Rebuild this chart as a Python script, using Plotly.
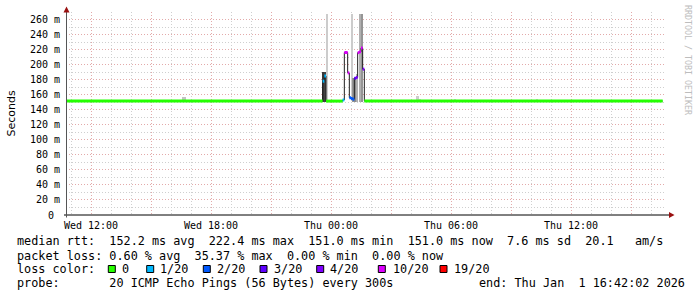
import plotly.graph_objects as go
from datetime import datetime, timedelta

# ---------------- data ----------------
view_start = "2025-12-31 10:45"
view_end = "2026-01-01 16:45"

# median rtt (ms): each value holds from its start time to the next start time
step_start = ["2025-12-31 10:45", "2025-12-31 23:35", "2025-12-31 23:40", "2025-12-31 23:45",
              "2026-01-01 00:35", "2026-01-01 00:40", "2026-01-01 00:45", "2026-01-01 00:50",
              "2026-01-01 00:55", "2026-01-01 01:00", "2026-01-01 01:05", "2026-01-01 01:10",
              "2026-01-01 01:15", "2026-01-01 01:20", "2026-01-01 01:25", "2026-01-01 01:30",
              "2026-01-01 01:35", "2026-01-01 01:40"]
data_end = "2026-01-01 16:35"
median_ms = [151.5, 178, 185, 151.5, 153, 216, 216, 189, 156, 155, 154, 182, 183,
             216, 217, 222, 194, 151.5]
loss_of_20 = [0, 1, 1, 0, 1, 7, 7, 7, 2, 2, 2, 3, 4, 7, 7, 7, 4, 0]

# smoke (spread of the 20 pings) for single 5-minute steps
smoke_time = ["2025-12-31 13:15", "2025-12-31 13:20", "2025-12-31 16:35", "2025-12-31 16:40",
              "2025-12-31 20:00", "2025-12-31 20:05", "2025-12-31 23:35", "2025-12-31 23:40",
              "2025-12-31 23:45", "2026-01-01 01:00", "2026-01-01 01:05", "2026-01-01 01:10",
              "2026-01-01 01:15", "2026-01-01 01:25", "2026-01-01 01:30", "2026-01-01 04:15",
              "2026-01-01 04:20", "2026-01-01 04:25", "2026-01-01 06:10", "2026-01-01 10:15"]
smoke_low_ms = [150.5, 150.5, 150.5, 150.5, 150.5, 150.5, 150, 150, 151, 151, 150, 150,
                150, 150, 150, 150.5, 150.5, 150.5, 150.5, 150.5]
smoke_high_ms = [153.5, 153.5, 156.5, 156.5, 153.5, 153.5, 190, 190, 267, 267, 182, 183,
                 188, 267, 267, 157.7, 157.7, 154.5, 154, 154.7]
smoke_density = [0.1, 0.1, 0.2, 0.2, 0.1, 0.1, 0.95, 0.9, 0.15, 0.15, 0.45, 0.5,
                 0.3, 0.3, 0.45, 0.15, 0.15, 0.1, 0.1, 0.1]

loss_keys = [0, 1, 2, 3, 4, 10, 19]
loss_labels = ["0", "1/20", "2/20", "3/20", "4/20", "10/20", "19/20"]
loss_colors = ["#26ff00", "#00b8ff", "#0059ff", "#5e00ff", "#7e00ff", "#dd00ff", "#ff0000"]

y_tick_values = [0, 20, 40, 60, 80, 100, 120, 140, 160, 180, 200, 220, 240, 260]
y_tick_labels = ["0 ", "20 m", "40 m", "60 m", "80 m", "100 m", "120 m", "140 m",
                 "160 m", "180 m", "200 m", "220 m", "240 m", "260 m"]
x_tick_times = ["2025-12-31 12:00", "2025-12-31 15:00", "2025-12-31 18:00", "2025-12-31 21:00",
                "2026-01-01 00:00", "2026-01-01 03:00", "2026-01-01 06:00", "2026-01-01 09:00",
                "2026-01-01 12:00", "2026-01-01 15:00"]
x_tick_labels = ["Wed 12:00", "", "Wed 18:00", "", "Thu 00:00", "", "Thu 06:00", "",
                 "Thu 12:00", ""]

stat_median = "median rtt:  152.2 ms avg  222.4 ms max  151.0 ms min  151.0 ms now  7.6 ms sd  20.1   am/s"
stat_loss = "packet loss: 0.60 % avg  35.37 % max  0.00 % min  0.00 % now"
probe_text = "probe:       20 ICMP Echo Pings (56 Bytes) every 300s"
end_text = "end: Thu Jan  1 16:42:02 2026"
watermark = "RRDTOOL / TOBI OETIKER"

# ---------------- helpers ----------------
FMT = "%Y-%m-%d %H:%M"
def T(s):
    return datetime.strptime(s, FMT)

L, R, TOP, B = 66, 31, 12, 82
W, H = 697, 297
PW, PH = W - L - R, H - TOP - B

def px(x):
    return (x - L) / PW

def py(y):
    return (H - B - y) / PH

def nb(s):
    return s.replace(" ", "\u00a0")

def loss_class(n):
    for i, k in enumerate(loss_keys):
        if n <= k:
            return i
    return len(loss_keys) - 1

starts = [T(s) for s in step_start]
ends = starts[1:] + [T(data_end)]

fig = go.Figure()

# smoke
step = timedelta(minutes=5)
sm_x = [T(s) + step / 2 for s in smoke_time]
sm_col = []
for d in smoke_density:
    v = int(round(232 - 185 * d))
    sm_col.append(f"rgb({v},{v},{v})")
fig.add_trace(go.Bar(x=sm_x, y=[h - l for h, l in zip(smoke_high_ms, smoke_low_ms)],
                     base=smoke_low_ms, width=[300000] * len(sm_x),
                     marker=dict(color=sm_col, line=dict(width=0)), hoverinfo="skip"))

# thin dark median line
fig.add_trace(go.Scatter(x=starts + [ends[-1]], y=median_ms + [median_ms[-1]],
                         mode="lines", line=dict(color="#202020", width=1, shape="hv"),
                         hoverinfo="skip"))

# loss coloured median bands
classes = [loss_class(n) for n in loss_of_20]
for ci, col in enumerate(loss_colors):
    xs, ys = [], []
    for i in range(len(starts)):
        if classes[i] == ci:
            xs += [starts[i], ends[i], None]
            ys += [median_ms[i], median_ms[i], None]
    if xs:
        fig.add_trace(go.Scatter(x=xs, y=ys, mode="lines",
                                 line=dict(color=col, width=3), hoverinfo="skip"))

MAJ = "#e3aaaa"
MIN = "#cfcfcf"
DASH = "1px,2px"
fig.update_xaxes(type="date", range=[view_start, view_end], tickmode="array",
                 tickvals=x_tick_times, ticktext=x_tick_labels,
                 showgrid=True, gridcolor=MAJ, griddash=DASH, gridwidth=1,
                 minor=dict(dtick=3600000, tick0="2025-12-31 11:00", showgrid=True,
                            gridcolor=MIN, griddash=DASH, gridwidth=1),
                 showline=False, zeroline=False, ticks="", ticklabelstandoff=3,
                 tickfont=dict(family="DejaVu Sans Mono", size=10, color="#000"))
fig.update_yaxes(range=[0, 270], tickmode="array", tickvals=y_tick_values,
                 ticktext=[nb(t) for t in y_tick_labels],
                 showgrid=True, gridcolor=MAJ, griddash=DASH, gridwidth=1,
                 minor=dict(dtick=10, tick0=0, showgrid=True, gridcolor=MIN,
                            griddash=DASH, gridwidth=1),
                 showline=False, zeroline=False, ticks="", ticklabelstandoff=5,
                 tickfont=dict(family="DejaVu Sans Mono", size=10, color="#000"))

shapes = []
# axes lines and arrows
shapes.append(dict(type="line", xref="paper", yref="paper", x0=px(64), x1=px(670),
                   y0=py(215), y1=py(215), line=dict(color="#000", width=1)))
shapes.append(dict(type="line", xref="paper", yref="paper", x0=px(66.5), x1=px(66.5),
                   y0=py(217.5), y1=py(11), line=dict(color="#555", width=1)))
shapes.append(dict(type="path", xref="paper", yref="paper",
                   path=f"M{px(63.5)},{py(12.5)} L{px(69.5)},{py(12.5)} L{px(66.5)},{py(6.5)} Z",
                   fillcolor="#9a1010", line=dict(width=0)))
shapes.append(dict(type="path", xref="paper", yref="paper",
                   path=f"M{px(669)},{py(212)} L{px(669)},{py(218)} L{px(674.5)},{py(215)} Z",
                   fillcolor="#9a1010", line=dict(width=0)))

ann = []
MONO = "DejaVu Sans Mono"
FS = 11.8
def text(t, x, y, **kw):
    d = dict(text=nb(t), x=px(x), y=py(y), xref="paper", yref="paper",
             xanchor="left", yanchor="middle", showarrow=False, borderpad=0,
             font=dict(family=MONO, size=FS, color="#000"))
    d.update(kw)
    ann.append(d)

text(stat_median, 16, 241)
text(stat_loss, 16, 255.7)
text("loss color:", 16, 269.3)
box_x = [108.3, 146.7, 203.3, 260, 316.7, 378.3, 440]
label_x = [121, 159.3, 216, 272.7, 329.3, 392.3, 453.3]
for bx, lx, lab, col in zip(box_x, label_x, loss_labels, loss_colors):
    shapes.append(dict(type="rect", xref="paper", yref="paper",
                       x0=px(bx), x1=px(bx + 7), y0=py(272.5), y1=py(265.5),
                       fillcolor=col, line=dict(color="#000", width=1)))
    text(lab, lx, 269.3)
text(probe_text, 16, 283.3)
text(end_text, 478.3, 283.3)

ann.append(dict(text="Seconds", x=px(11), y=py(113.5), xref="paper", yref="paper",
                xanchor="center", yanchor="middle", showarrow=False, textangle=-90,
                font=dict(family="DejaVu Sans", size=11, color="#000")))
ann.append(dict(text=nb(watermark), x=px(688), y=py(60), xref="paper", yref="paper",
                xanchor="center", yanchor="middle", showarrow=False, textangle=90,
                font=dict(family=MONO, size=8.3, color="#bdbdbd")))

fig.update_layout(width=W, height=H, margin=dict(l=L, r=R, t=TOP, b=B),
                  paper_bgcolor="white", plot_bgcolor="white", showlegend=False,
                  barmode="overlay", bargap=0, shapes=shapes, annotations=ann)

fig.write_html("out.html")
